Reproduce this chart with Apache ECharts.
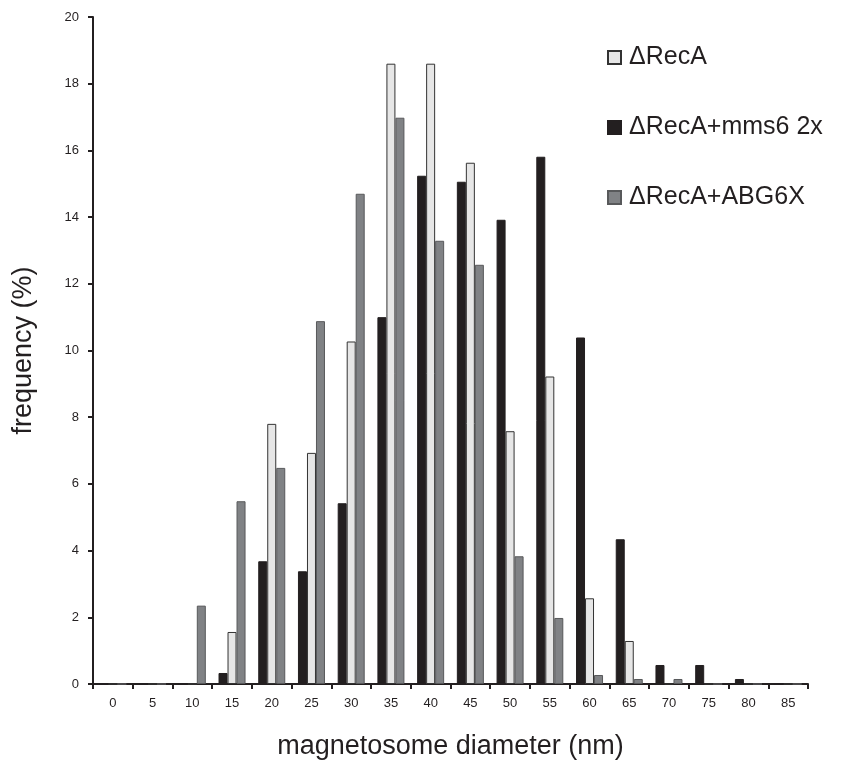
<!DOCTYPE html>
<html>
<head>
<meta charset="utf-8">
<script src="https://cdn.jsdelivr.net/npm/echarts@6/dist/echarts.min.js"></script>
<style>
  html, body { margin: 0; padding: 0; background: #fff; }
  #chart { width: 849px; height: 765px; }
</style>
</head>
<body>
<div id="chart"></div>
<script>
const categories = ['0', '5', '10', '15', '20', '25', '30', '35', '40', '45', '50', '55', '60', '65', '70', '75', '80', '85']
const recA = [0, 0, 0, 1.56, 7.8, 6.93, 10.27, 18.6, 18.6, 15.63, 7.58, 9.22, 2.57, 1.29, 0, 0, 0, 0]
const recAMms6 = [0, 0, 0, 0.33, 3.68, 3.38, 5.42, 11.0, 15.24, 15.06, 13.92, 15.81, 10.39, 4.34, 0.57, 0.57, 0.15, 0]
const recAAbg6x = [0, 0, 2.35, 5.48, 6.48, 10.88, 14.7, 16.98, 13.29, 12.57, 3.83, 1.98, 0.27, 0.15, 0.15, 0, 0, 0]
const legendNames = ['ΔRecA', 'ΔRecA+mms6 2x', 'ΔRecA+ABG6X']

const font = 'Liberation Sans, Arial, sans-serif'
let myChart = echarts.init(document.getElementById('chart'))

function bar (name, data, fill, border) {
  return {
    name: name,
    type: 'bar',
    data: data,
    barGap: '0%',
    barCategoryGap: '32%',
    itemStyle: {
      color: fill,
      borderColor: border,
      borderWidth: 1
    }
  }
}

let option = {
  animation: false,
  backgroundColor: '#fff',
  textStyle: { fontFamily: font },
  grid: {
    left: 93,
    right: 41,
    top: 17,
    bottom: 80
  },
  legend: {
    data: legendNames,
    orient: 'vertical',
    left: 602,
    top: 40,
    itemGap: 45,
    itemWidth: 13,
    itemHeight: 13,
    icon: 'rect',
    textStyle: {
      fontSize: 25,
      lineHeight: 24,
      color: '#231f20',
      fontFamily: font,
      padding: [0, 0, 0, 3]
    }
  },
  xAxis: {
    type: 'category',
    data: categories,
    boundaryGap: true,
    name: 'magnetosome diameter (nm)',
    nameLocation: 'middle',
    nameGap: 49,
    nameTextStyle: { fontSize: 27, color: '#231f20', fontFamily: font },
    axisLine: { lineStyle: { color: '#231f20', width: 2 } },
    axisTick: { show: true, length: 5, lineStyle: { color: '#231f20', width: 2 } },
    axisLabel: { fontSize: 13, color: '#231f20', margin: 13, interval: 0 },
    splitLine: { show: false }
  },
  yAxis: {
    type: 'value',
    min: 0,
    max: 20,
    interval: 2,
    name: 'frequency (%)',
    nameLocation: 'middle',
    nameGap: 56,
    nameTextStyle: { fontSize: 27, color: '#231f20', fontFamily: font },
    axisLine: { show: true, lineStyle: { color: '#231f20', width: 2 } },
    axisTick: { show: true, length: 5, lineStyle: { color: '#231f20', width: 2 } },
    axisLabel: { fontSize: 13, color: '#231f20', margin: 14 },
    splitLine: { show: false }
  },
  series: [
    bar('ΔRecA+mms6 2x', recAMms6, '#231f20', '#231f20'),
    bar('ΔRecA', recA, '#e6e6e6', '#333333'),
    bar('ΔRecA+ABG6X', recAAbg6x, '#808285', '#58595b')
  ]
}
myChart.setOption(option)
</script>
</body>
</html>
